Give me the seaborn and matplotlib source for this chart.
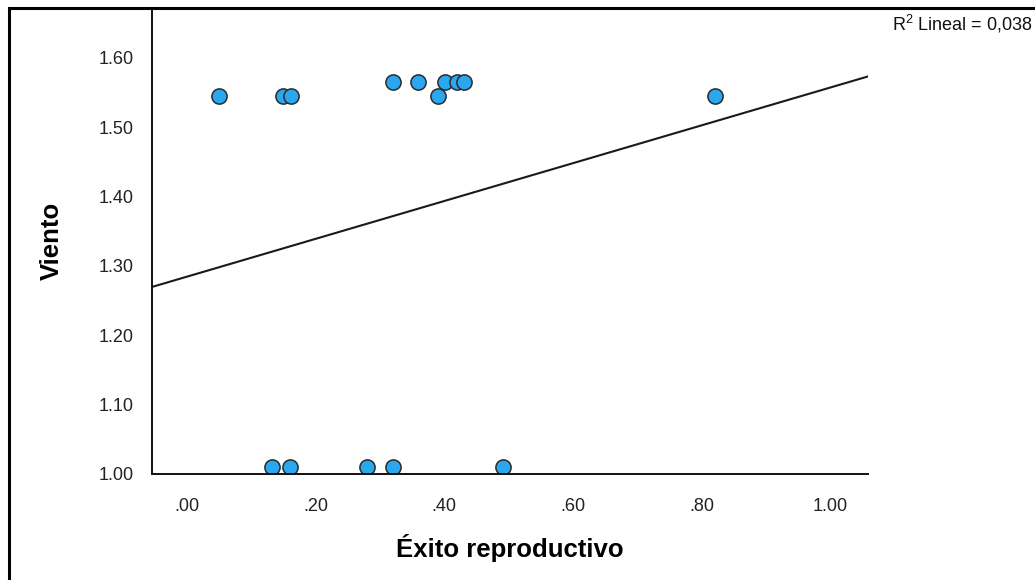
import numpy as np
import pandas as pd
import matplotlib.pyplot as plt
import seaborn as sns
from matplotlib.patches import Rectangle

# values
exito = [0.132, 0.160, 0.280, 0.320, 0.491,
         0.050, 0.149, 0.162, 0.390, 0.821,
         0.320, 0.360, 0.401, 0.420, 0.431]
viento = [1.010, 1.010, 1.010, 1.010, 1.010,
          1.545, 1.545, 1.545, 1.545, 1.545,
          1.565, 1.565, 1.565, 1.565, 1.565]

x_ticks = [0.0, 0.2, 0.4, 0.6, 0.8, 1.0]
x_ticklabels = [".00", ".20", ".40", ".60", ".80", "1.00"]
y_ticks = [1.0, 1.1, 1.2, 1.3, 1.4, 1.5, 1.6]
y_ticklabels = ["1.00", "1.10", "1.20", "1.30", "1.40", "1.50", "1.60"]
r2_label = r"R$^{2}$ Lineal = 0,038"

df = pd.DataFrame({"Éxito reproductivo": exito, "Viento": viento})

sns.set_style("white")
plt.rcParams["font.family"] = ["Liberation Sans", "DejaVu Sans"]
plt.rcParams["mathtext.fontset"] = "custom"
plt.rcParams["mathtext.rm"] = "Liberation Sans"
plt.rcParams["mathtext.default"] = "rm"

fig = plt.figure(figsize=(10.35, 5.8), dpi=100)
ax = fig.add_axes([152 / 1035, 1 - 474 / 580, 716 / 1035, 466 / 580])

# limits first so the fit line spans the whole axis (truncate=False)
ax.set_xlim(-0.054, 1.059)
ax.set_ylim(1.006, 1.672)

sns.regplot(data=df, x="Éxito reproductivo", y="Viento", ax=ax, ci=None, truncate=False,
            scatter_kws=dict(s=120, color="#2aa7ee", edgecolors="#2b2b2b", linewidths=1.1, alpha=1),
            line_kws=dict(color="#1a1a1a", lw=1.5))

ax.set_xlim(-0.054, 1.059)
ax.set_ylim(1.006, 1.672)

ax.set_xticks(x_ticks)
ax.set_xticklabels(x_ticklabels)
ax.set_yticks(y_ticks)
ax.set_yticklabels(y_ticklabels)
ax.tick_params(axis="both", length=0, labelsize=13, colors="#222222")
ax.tick_params(axis="x", pad=17)
ax.tick_params(axis="y", pad=13)

sns.despine(ax=ax)
for side in ["left", "bottom"]:
    ax.spines[side].set_color("#111111")
    ax.spines[side].set_linewidth(1.4)

ax.set_xlabel("Éxito reproductivo", fontsize=18.5, fontweight="bold", va="center", color="black")
ax.set_ylabel("Viento", fontsize=18.5, fontweight="bold", va="center", color="black")
ax.xaxis.set_label_coords(0.5, (474 - 548) / 466)
ax.yaxis.set_label_coords((52 - 152) / 716, 0.5)

fig.text(1032 / 1035, 1 - 24 / 580, r2_label, ha="right", va="center", fontsize=13, color="#111111")

# outer frame (left and top edges visible)
fig.add_artist(Rectangle((9 / 1035, -0.1), 1.2, 1.1 - 8 / 580, transform=fig.transFigure,
                         fill=False, edgecolor="black", lw=2.2, clip_on=False))

fig.savefig("out.png", dpi=100)
